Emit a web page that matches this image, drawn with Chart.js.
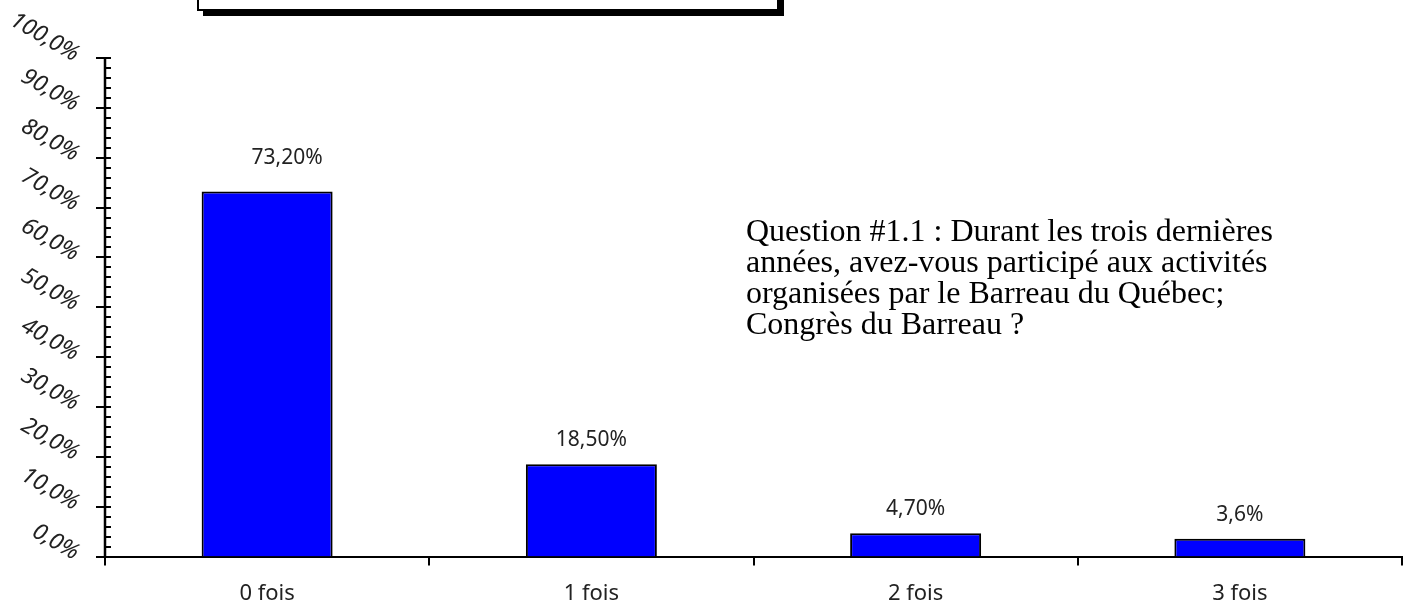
<!DOCTYPE html>
<html>
<head>
<meta charset="utf-8">
<script src="https://cdn.jsdelivr.net/npm/chart.js@4"></script>
<style>
  html, body { margin: 0; padding: 0; background: #fff; }
  #wrap { width: 1404px; height: 605px; }
</style>
</head>
<body>
<div id="wrap"><canvas id="chart" width="1404" height="605"></canvas></div>
<script>
// chart data
const categories = ["0 fois", "1 fois", "2 fois", "3 fois"];
const values = [73.2, 18.5, 4.7, 3.6];
const valueLabels = ["73,20%", "18,50%", "4,70%", "3,6%"];
const yTickValues = [0, 10, 20, 30, 40, 50, 60, 70, 80, 90, 100];
const yTickLabels = ["0,0%", "10,0%", "20,0%", "30,0%", "40,0%", "50,0%", "60,0%", "70,0%", "80,0%", "90,0%", "100,0%"];
const noteLines = [
    "Question #1.1 : Durant les trois dernières",
    "années, avez-vous participé aux activités",
    "organisées par le Barreau du Québec;",
    "Congrès du Barreau ?"
];

// first label was nudged in the original
const labelShift = [[20, -10], [0, 0], [0, 0], [0, 0]];

// y axis drawn by hand: major ticks out, minor ticks in, slanted labels
const yAxisPlugin = {
    id: "yAxisPlugin",
    afterDraw(chart) {
        const ctx = chart.ctx;
        const y = chart.scales.y;
        const x0 = chart.chartArea.left;
        ctx.save();
        ctx.strokeStyle = "#000";
        ctx.lineWidth = 2.5;
        ctx.beginPath();
        ctx.moveTo(x0, y.getPixelForValue(0) + 1);
        ctx.lineTo(x0, y.getPixelForValue(100) - 1);
        ctx.stroke();
        ctx.lineWidth = 2;
        ctx.beginPath();
        for (let v = 0; v <= 100; v += 2) {
            const py = Math.round(y.getPixelForValue(v));
            const major = v % 10 === 0;
            ctx.moveTo(major ? x0 - 9 : x0, py);
            ctx.lineTo(x0 + 6, py);
        }
        ctx.stroke();

        ctx.fillStyle = "#222";
        ctx.font = "italic 23px 'Noto Sans'";
        ctx.textAlign = "right";
        ctx.textBaseline = "middle";
        yTickValues.forEach((v, i) => {
            const py = y.getPixelForValue(v);
            ctx.save();
            ctx.translate(77, py - 2);
            ctx.rotate(Math.PI / 6);
            ctx.fillText(yTickLabels[i], 0, 0);
            ctx.restore();
        });
        ctx.restore();
    }
};

// value labels above bars
const valueLabelPlugin = {
    id: "valueLabelPlugin",
    afterDatasetsDraw(chart) {
        const ctx = chart.ctx;
        const meta = chart.getDatasetMeta(0);
        ctx.save();
        ctx.fillStyle = "#222";
        ctx.font = "21px 'Noto Sans'";
        ctx.textAlign = "center";
        ctx.textBaseline = "middle";
        meta.data.forEach((bar, i) => {
            ctx.fillText(valueLabels[i], bar.x + labelShift[i][0], bar.y - 24 + labelShift[i][1]);
        });
        ctx.restore();
    }
};

// question text and the clipped box at the top
const notePlugin = {
    id: "notePlugin",
    afterDraw(chart) {
        const ctx = chart.ctx;
        ctx.save();
        ctx.fillStyle = "#000";
        ctx.fillRect(203, 0, 581, 16);
        ctx.fillStyle = "#fff";
        ctx.fillRect(197, 0, 582, 11);
        ctx.strokeStyle = "#000";
        ctx.lineWidth = 2;
        ctx.beginPath();
        ctx.moveTo(198, 0);
        ctx.lineTo(198, 10);
        ctx.lineTo(778, 10);
        ctx.lineTo(778, 0);
        ctx.stroke();

        ctx.fillStyle = "#000";
        ctx.font = "32px 'Liberation Serif'";
        ctx.textAlign = "left";
        ctx.textBaseline = "alphabetic";
        noteLines.forEach((line, i) => {
            ctx.fillText(line, 746, 241 + i * 31);
        });
        ctx.restore();
    }
};

function renderChart() {
    const ctx = document.getElementById("chart").getContext("2d");
    new Chart(ctx, {
        type: "bar",
        data: {
            labels: categories,
            datasets: [
                {
                    data: values,
                    backgroundColor: "#0000ff",
                    borderColor: "#000",
                    borderWidth: 2,
                    barPercentage: 0.404,
                    categoryPercentage: 1,
                },
            ],
        },
        options: {
            responsive: false,
            animation: false,
            layout: { padding: { left: 105, right: 2, top: 58, bottom: -17 } },
            plugins: {
                legend: { display: false },
                tooltip: { enabled: false },
            },
            scales: {
                x: {
                    grid: {
                        display: true,
                        drawOnChartArea: false,
                        offset: true,
                        tickLength: 9,
                        color: "#000",
                        lineWidth: 2,
                    },
                    border: { display: true, color: "#000", width: 2 },
                    ticks: {
                        color: "#222",
                        padding: 15,
                        font: { family: "'Noto Sans'", size: 22 },
                    },
                },
                y: {
                    display: false,
                    min: 0,
                    max: 100,
                },
            },
        },
        plugins: [yAxisPlugin, valueLabelPlugin, notePlugin],
    });
}

renderChart();
</script>
</body>
</html>
